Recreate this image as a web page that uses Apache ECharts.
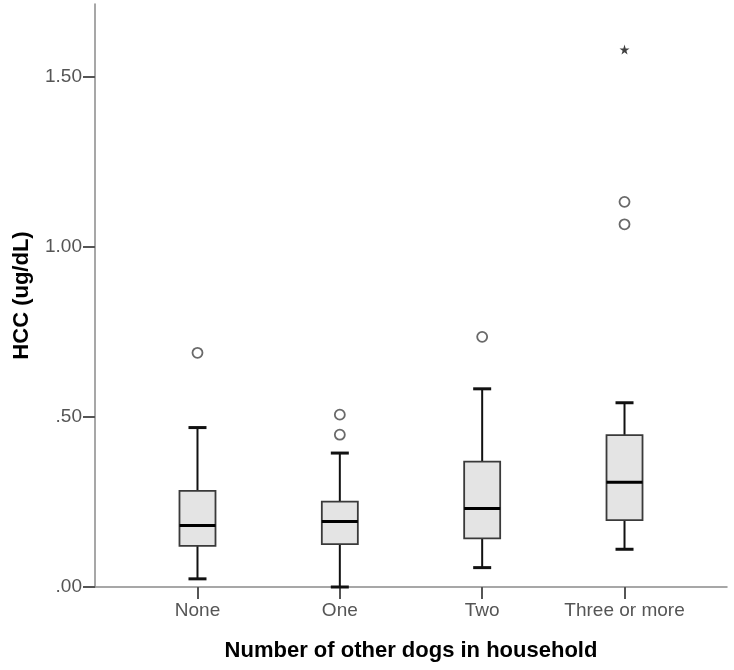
<!DOCTYPE html>
<html>
<head>
<meta charset="utf-8">
<script src="https://cdn.jsdelivr.net/npm/echarts@6/dist/echarts.min.js"></script>
<style>
html,body{margin:0;padding:0;background:#fff;}
#chart{width:734px;height:670px;}
</style>
</head>
<body>
<div id="chart"></div>
<script>
var categories = ['None', 'One', 'Two', 'Three or more'];
var lowWhisker = [0.024, 0.000, 0.057, 0.111];
var q1 = [0.121, 0.126, 0.143, 0.197];
var median = [0.181, 0.193, 0.231, 0.308];
var q3 = [0.283, 0.251, 0.369, 0.447];
var highWhisker = [0.469, 0.394, 0.583, 0.542];
var outlierCat = [0, 1, 1, 2, 3, 3];
var outlierVal = [0.689, 0.507, 0.448, 0.736, 1.133, 1.067];
var extremeCat = [3];
var extremeVal = [1.581];
var yTicks = [0, 0.5, 1.0, 1.5];
var yMax = 1.715;

var boxData = categories.map(function (c, i) {
  return [i, lowWhisker[i], q1[i], median[i], q3[i], highWhisker[i]];
});
var outlierData = outlierCat.map(function (c, i) { return [c, outlierVal[i]]; });
var extremeData = extremeCat.map(function (c, i) { return [c, extremeVal[i]]; });

var FONT = "'Liberation Sans', Arial, sans-serif";
var chart = echarts.init(document.getElementById('chart'));
chart.setOption({
  animation: false,
  backgroundColor: '#fff',
  grid: { left: 95, right: 7, top: 4, bottom: 83, containLabel: false },
  xAxis: {
    type: 'value',
    min: -0.72,
    max: 3.72,
    name: 'Number of other dogs in household',
    nameLocation: 'middle',
    nameGap: 53,
    nameTextStyle: { fontFamily: FONT, fontWeight: 'bold', fontSize: 22, color: '#000' },
    splitLine: { show: false },
    axisLine: { show: true, onZero: false, lineStyle: { color: '#8a8a8a', width: 1.5 } },
    axisTick: { show: true, customValues: [0, 1, 2, 3], length: 12, lineStyle: { color: '#555', width: 2 } },
    axisLabel: {
      customValues: [0, 1, 2, 3],
      margin: 14,
      fontFamily: FONT, fontSize: 19, color: '#555',
      formatter: function (v) { return categories[Math.round(v)]; }
    }
  },
  yAxis: {
    type: 'value',
    min: 0,
    max: yMax,
    name: 'HCC (ug/dL)',
    nameLocation: 'middle',
    nameGap: 62,
    nameTextStyle: { fontFamily: FONT, fontWeight: 'bold', fontSize: 22, color: '#000' },
    splitLine: { show: false },
    axisLine: { show: true, onZero: false, lineStyle: { color: '#8a8a8a', width: 1.5 } },
    axisTick: { show: true, customValues: yTicks, length: 12, lineStyle: { color: '#555', width: 2 } },
    axisLabel: {
      customValues: yTicks,
      margin: 13,
      fontFamily: FONT, fontSize: 19, color: '#555',
      formatter: function (v) { return v.toFixed(2).replace(/^0\./, '.'); }
    }
  },
  series: [
    {
      type: 'custom',
      data: boxData,
      encode: { x: 0, y: [1, 2, 3, 4, 5] },
      renderItem: function (params, api) {
        var x = api.value(0);
        var lo = api.coord([x, api.value(1)]);
        var b1 = api.coord([x, api.value(2)]);
        var md = api.coord([x, api.value(3)]);
        var b3 = api.coord([x, api.value(4)]);
        var hi = api.coord([x, api.value(5)]);
        var bw = api.size([0.253, 0])[0];
        var cw = bw / 2;
        var cx = lo[0];
        var wStyle = { stroke: '#111', lineWidth: 2 };
        var cStyle = { stroke: '#111', lineWidth: 3 };
        return {
          type: 'group',
          children: [
            { type: 'line', shape: { x1: cx, y1: lo[1], x2: cx, y2: b1[1] }, style: wStyle },
            { type: 'line', shape: { x1: cx, y1: b3[1], x2: cx, y2: hi[1] }, style: wStyle },
            { type: 'line', shape: { x1: cx - cw / 2, y1: lo[1], x2: cx + cw / 2, y2: lo[1] }, style: cStyle },
            { type: 'line', shape: { x1: cx - cw / 2, y1: hi[1], x2: cx + cw / 2, y2: hi[1] }, style: cStyle },
            { type: 'rect', shape: { x: cx - bw / 2, y: b3[1], width: bw, height: b1[1] - b3[1] },
              style: { fill: '#e4e4e4', stroke: '#3a3a3a', lineWidth: 1.8 } },
            { type: 'line', shape: { x1: cx - bw / 2, y1: md[1], x2: cx + bw / 2, y2: md[1] },
              style: { stroke: '#000', lineWidth: 3 } }
          ]
        };
      }
    },
    {
      type: 'scatter',
      data: outlierData,
      symbol: 'circle',
      symbolSize: 10,
      itemStyle: { color: '#fff', borderColor: '#444', borderWidth: 1.8 }
    },
    {
      type: 'scatter',
      data: extremeData,
      symbol: 'path://M50,0 L61,35 L98,35 L68,57 L79,91 L50,70 L21,91 L32,57 L2,35 L39,35 Z',
      symbolSize: 10,
      itemStyle: { color: '#111' }
    }
  ]
});
</script>
</body>
</html>
